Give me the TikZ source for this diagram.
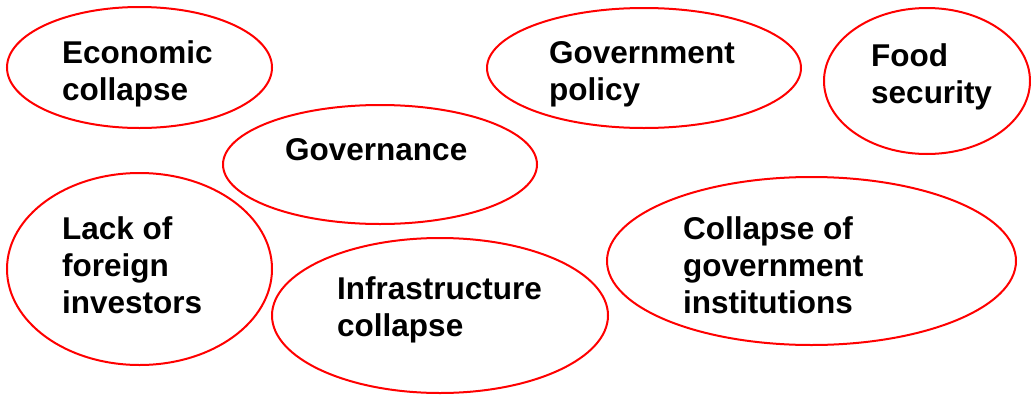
\documentclass[tikz,border=0pt]{standalone}
\usepackage{fontspec}
\setmainfont{Liberation Sans}
\usetikzlibrary{shapes.geometric}
\begin{document}
\begin{tikzpicture}[x=1pt,y=-1pt,
  bubble/.style={draw=red, line width=2pt, ellipse, inner sep=0pt},
  label/.style={anchor=base west, align=left, inner sep=0pt,
    font=\fontsize{31.5}{37}\selectfont\bfseries}]
  \useasboundingbox (0,0) rectangle (1031,394);
  % outlines
  \node[bubble, minimum width=265pt, minimum height=121pt] (econ) at (139.5,67.5) {};
  \node[bubble, minimum width=314pt, minimum height=120pt] (policy) at (644,68) {};
  \node[bubble, minimum width=206pt, minimum height=146pt] (food) at (927,81) {};
  \node[bubble, minimum width=314pt, minimum height=119pt] (gov) at (380,164.5) {};
  \node[bubble, minimum width=265pt, minimum height=192pt] (lack) at (139.5,269) {};
  \node[bubble, minimum width=336pt, minimum height=155pt] (infra) at (440,315.5) {};
  \node[bubble, minimum width=409pt, minimum height=168pt] (inst) at (811.5,261) {};
  % captions (anchored at the baseline of their last line)
  \node[label] (econT) at (62,100) {Economic\\collapse};
  \node[label] (policyT) at (549,100) {Government\\policy};
  \node[label] (foodT) at (871,103) {Food\\security};
  \node[label] (govT) at (285,160) {Governance};
  \node[label] (lackT) at (62,313) {Lack of\\foreign\\investors};
  \node[label] (infraT) at (337,336) {Infrastructure\\collapse};
  \node[label] (instT) at (683,313) {Collapse of\\government\\institutions};
\end{tikzpicture}
\end{document}
